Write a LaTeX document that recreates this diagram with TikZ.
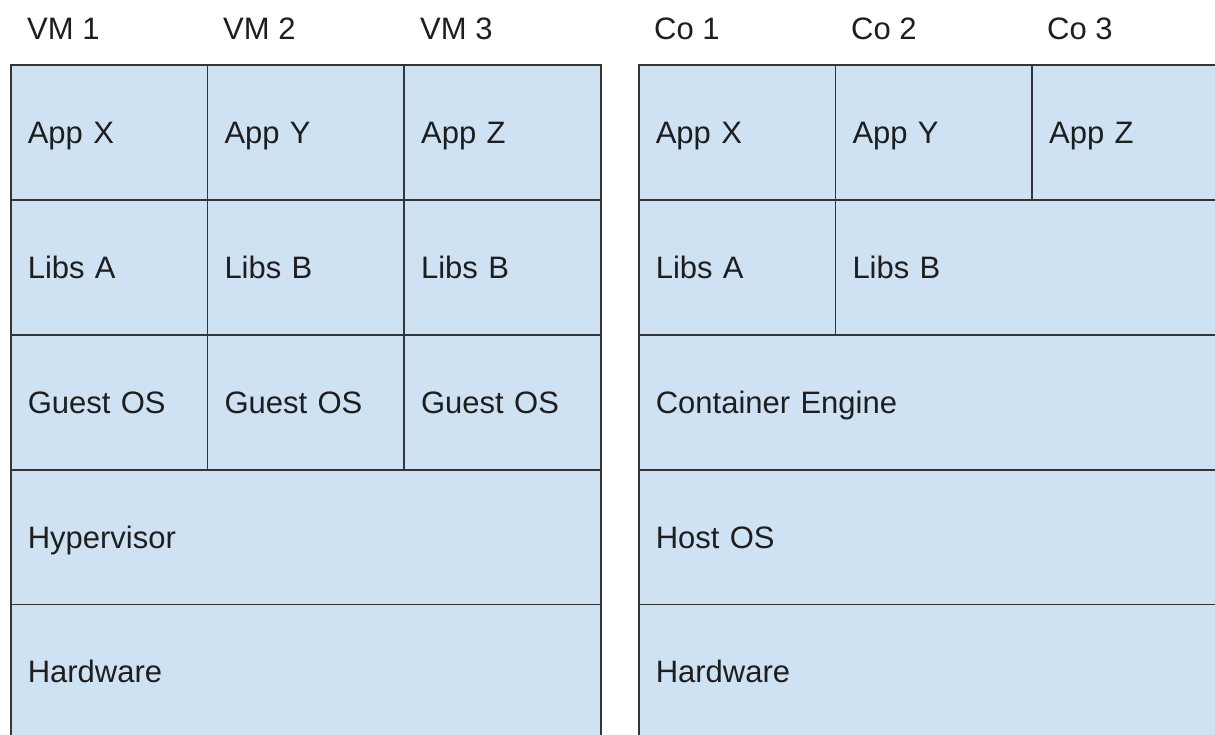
\documentclass[tikz,border=0pt]{standalone}
\usepackage{fontspec}
\setmainfont{Liberation Sans}
\definecolor{cellfill}{HTML}{CFE2F3}
\definecolor{cellline}{HTML}{353535}
\definecolor{ink}{HTML}{1E1E1E}
\tikzset{
  cell/.style={draw=cellline, fill=cellfill, line width=1.6pt, anchor=north west,
    inner xsep=17pt, inner ysep=0pt, align=left, text=ink,
    text height=22pt, text depth=0pt, minimum height=134.8pt,
    font=\fontsize{31}{36}\selectfont},
  narrow/.style={cell, minimum width=196.7pt, text width=162.7pt},
  wide/.style={cell, minimum width=590pt, text width=556pt},
  libsb/.style={cell, minimum width=394pt, text width=360pt},
  head/.style={anchor=base west, inner sep=0pt, text=ink,
    font=\fontsize{31}{36}\selectfont}
}
\begin{document}
\begin{tikzpicture}[x=1pt, y=1pt]
\useasboundingbox (0,0) rectangle (1215,-735);
\clip (0,0) rectangle (1215,-735);
\fill[white] (0,0) rectangle (1215,-735);

% virtual machine stack
\node[head] (vm1) at (27,-40) {VM 1};
\node[head] (vm2) at (223,-40) {VM 2};
\node[head] (vm3) at (420,-40) {VM 3};

\node[narrow] (vmappx) at (10,-64.5) {App X};
\node[narrow] (vmappy) at (206.7,-64.5) {App Y};
\node[narrow] (vmappz) at (403.3,-64.5) {App Z};
\node[narrow] (vmlibsa) at (10,-199.3) {Libs A};
\node[narrow] (vmlibsb1) at (206.7,-199.3) {Libs B};
\node[narrow] (vmlibsb2) at (403.3,-199.3) {Libs B};
\node[narrow] (vmos1) at (10,-334.1) {Guest OS};
\node[narrow] (vmos2) at (206.7,-334.1) {Guest OS};
\node[narrow] (vmos3) at (403.3,-334.1) {Guest OS};
\node[wide] (hyper) at (10,-468.9) {Hypervisor};
\node[wide] (vmhw) at (10,-603.7) {Hardware};

% container stack
\node[head] (co1) at (654,-40) {Co 1};
\node[head] (co2) at (851,-40) {Co 2};
\node[head] (co3) at (1047,-40) {Co 3};

\node[narrow] (coappx) at (638,-64.5) {App X};
\node[narrow] (coappy) at (834.7,-64.5) {App Y};
\node[narrow] (coappz) at (1031.3,-64.5) {App Z};
\node[narrow] (colibsa) at (638,-199.3) {Libs A};
\node[libsb] (colibsb) at (834.7,-199.3) {Libs B};
\node[wide] (engine) at (638,-334.1) {Container Engine};
\node[wide] (hostos) at (638,-468.9) {Host OS};
\node[wide] (cohw) at (638,-603.7) {Hardware};
\end{tikzpicture}
\end{document}
